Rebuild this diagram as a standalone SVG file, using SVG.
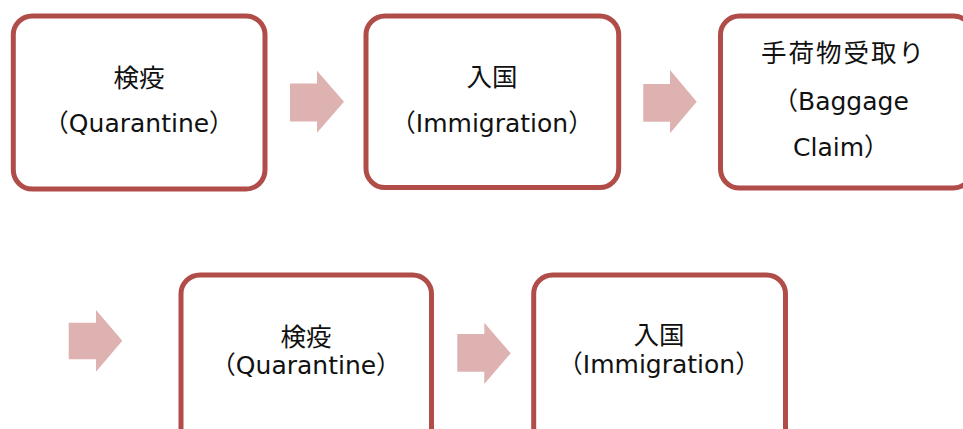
<svg xmlns="http://www.w3.org/2000/svg" width="963" height="429" viewBox="0 0 963 429">
<style>
.box{fill:#FFFFFF;stroke:#B04D49;stroke-width:5}
.arr{fill:#DEB2B1;stroke:none}
.jp{font-family:"Noto Sans CJK JP","DejaVu Sans",sans-serif;font-size:25.5px;fill:#111111}
.en{font-family:"DejaVu Sans","Noto Sans CJK JP",sans-serif;font-size:25px;fill:#111111}
.c{text-anchor:middle}
</style>
<rect width="963" height="429" fill="#FFFFFF"/>
<g id="connectors">
<polygon class="arr" points="290,83.5 317,83.5 317,70.7 344,101.7 317,132.7 317,121.5 290,121.5"/>
<polygon class="arr" points="643.3,84 670,84 670,70 696.7,101.7 670,133.3 670,121.7 643.3,121.7"/>
<polygon class="arr" points="68.7,322.7 96,322.7 96,310 122.3,340.8 96,371.7 96,359.3 68.7,359.3"/>
<polygon class="arr" points="457.3,334 484.3,334 484.3,322.7 510.7,353.3 484.3,384 484.3,371.7 457.3,371.7"/>
</g>
<g id="node1">
<rect class="box" x="13.3" y="16" width="251.7" height="173" rx="19"/>
<text class="jp c" x="139" y="86.5">検疫</text>
<text class="en c" x="139" y="132">（Quarantine）</text>
</g>
<g id="node2">
<rect class="box" x="366" y="16" width="252.7" height="171.5" rx="19"/>
<text class="jp c" x="492" y="86">入国</text>
<text class="en c" x="492" y="132">（Immigration）</text>
</g>
<g id="node3">
<rect class="box" x="720.5" y="16" width="252" height="172" rx="19"/>
<text class="jp" x="761" y="62" letter-spacing="2">手荷物受取り</text>
<text class="en" x="773" y="110">（Baggage</text>
<text class="en" x="793" y="156">Claim）</text>
</g>
<g id="node4">
<rect class="box" x="181" y="275" width="250.5" height="172" rx="19"/>
<text class="jp c" x="306" y="345.5">検疫</text>
<text class="en c" x="306" y="374">（Quarantine）</text>
</g>
<g id="node5">
<rect class="box" x="533.7" y="275" width="251.8" height="172" rx="19"/>
<text class="jp c" x="659" y="344">入国</text>
<text class="en c" x="659" y="373">（Immigration）</text>
</g>
</svg>
